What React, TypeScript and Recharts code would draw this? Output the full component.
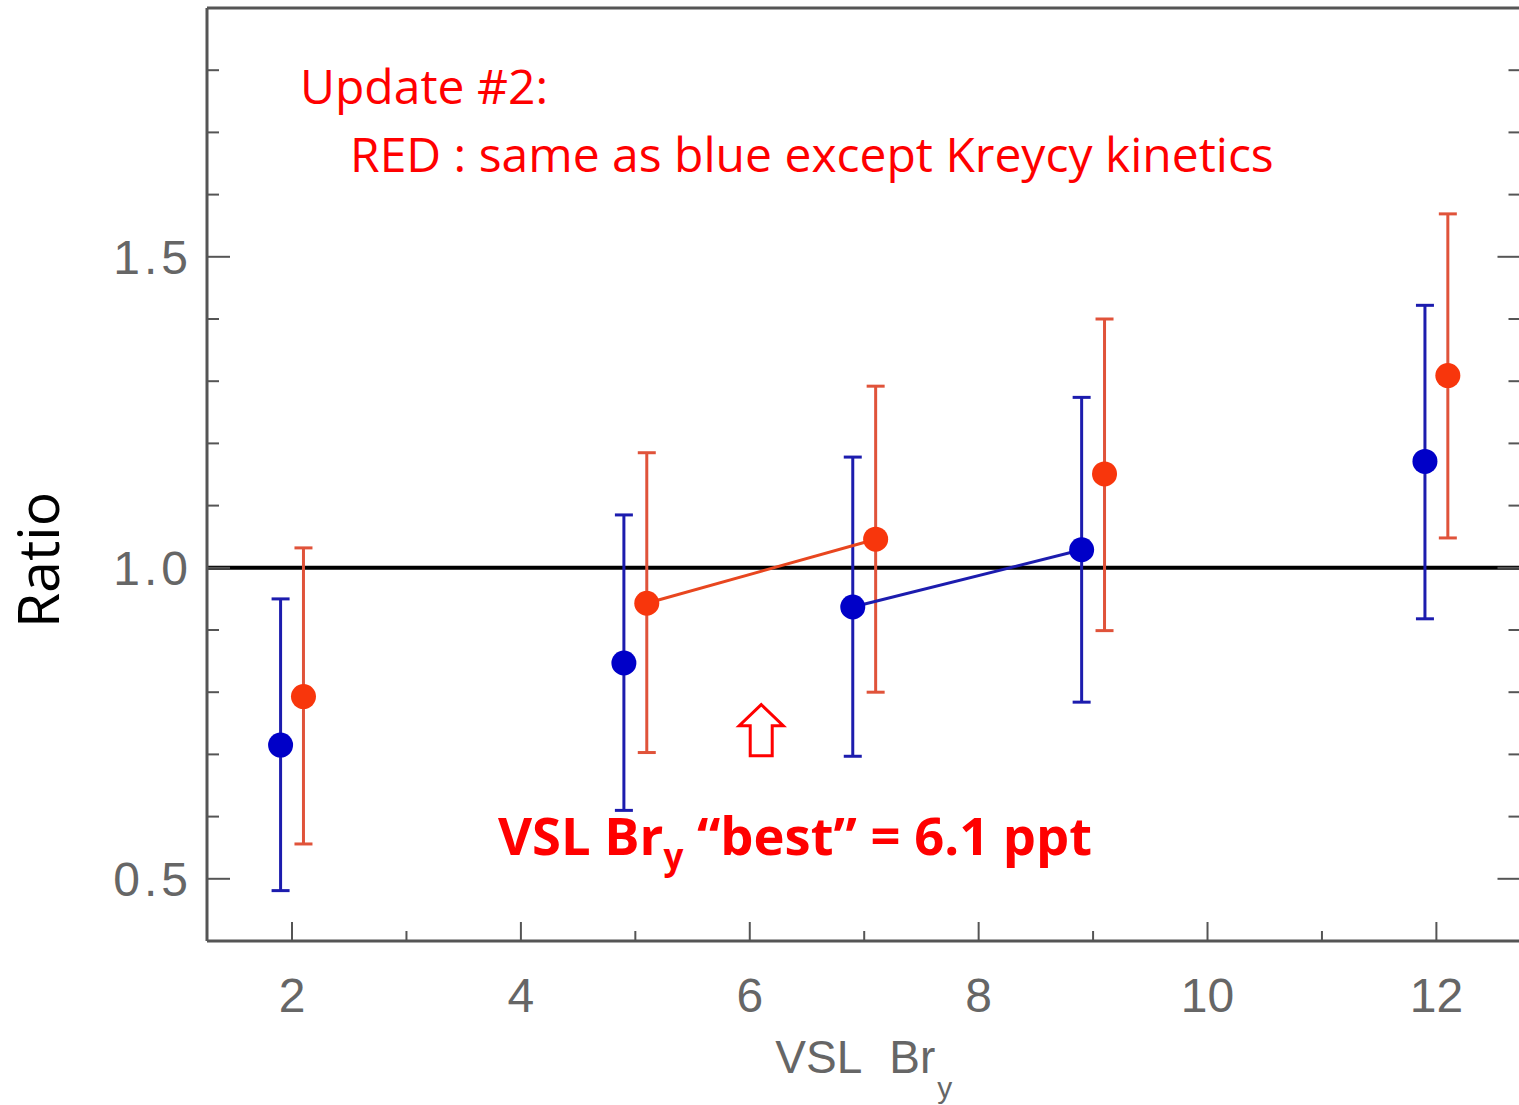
import React from 'react';
import {
  ComposedChart, Scatter, ErrorBar, XAxis, YAxis, ReferenceLine, ReferenceDot, Customized,
} from 'recharts';

// blue run: base case, plotted just left of each nominal Br_y value
const BLUE_X = [1.9, 4.9, 6.9, 8.9, 11.9];
const BLUE_Y = [0.715, 0.847, 0.937, 1.029, 1.171];
const BLUE_LOW = [0.481, 0.61, 0.697, 0.784, 0.918];
const BLUE_HIGH = [0.95, 1.085, 1.178, 1.274, 1.422];

// red run: same as blue except Kreycy kinetics, just right of each value
const RED_X = [2.1, 5.1, 7.1, 9.1, 12.1];
const RED_Y = [0.793, 0.943, 1.046, 1.151, 1.309];
const RED_LOW = [0.556, 0.703, 0.8, 0.899, 1.048];
const RED_HIGH = [1.032, 1.185, 1.292, 1.4, 1.569];

// indices of the points joined by a segment where each run crosses 1.0
const BLUE_JOINED = [2, 3];
const RED_JOINED = [1, 2];

const BEST_BRY = 6.1;
const ARROW_TIP = 0.78;

const X_DOMAIN = [1.257, 12.735];
const Y_DOMAIN = [0.4, 1.9];
const X_TICKS = [2, 3, 4, 5, 6, 7, 8, 9, 10, 11, 12];
const X_LABELS = [2, 4, 6, 8, 10, 12];
const Y_TICKS = [0.5, 0.6, 0.7, 0.8, 0.9, 1.0, 1.1, 1.2, 1.3, 1.4, 1.5, 1.6, 1.7, 1.8];
const Y_LABELS = [0.5, 1.0, 1.5];

const FRAME = '#555';
const TICK_FONT = '"Liberation Sans", Arial, sans-serif';
const TICK_INK = '#666';
const NOTE_FONT = '"Open Sans", "Noto Sans", sans-serif';
const NOTE_RED = '#ff0000';

const BLUE_DOT = '#0000c8';
const BLUE_BAR = '#1c1cae';
const RED_DOT = '#f8360c';
const RED_BAR = '#e0533a';

const toPoints = (xs: number[], ys: number[], lo: number[], hi: number[]) =>
  xs.map((x, i) => ({ x, y: ys[i], err: [ys[i] - lo[i], hi[i] - ys[i]] }));

const bluePoints = toPoints(BLUE_X, BLUE_Y, BLUE_LOW, BLUE_HIGH);
const redPoints = toPoints(RED_X, RED_Y, RED_LOW, RED_HIGH);
const blueLink = BLUE_JOINED.map((i) => ({ x: BLUE_X[i], y: BLUE_Y[i] }));
const redLink = RED_JOINED.map((i) => ({ x: RED_X[i], y: RED_Y[i] }));

const isLabelled = (list: number[], v: number) => list.some((l) => Math.abs(l - v) < 1e-6);

// inward ticks on all four sides, labels only on bottom and left
const xTick = (side: 'bottom' | 'top') => (props: any) => {
  const { x, y, payload } = props;
  const major = isLabelled(X_LABELS, payload.value);
  const len = major ? 19 : 10;
  const dir = side === 'bottom' ? -1 : 1;
  return (
    <g>
      <line x1={x} x2={x} y1={y} y2={y + dir * len} stroke={FRAME} strokeWidth={2} />
      {side === 'bottom' && major && (
        <text x={x} y={y + 71} textAnchor="middle" fontFamily={TICK_FONT} fontSize={48} fill={TICK_INK}>
          {payload.value}
        </text>
      )}
    </g>
  );
};

const yTick = (side: 'left' | 'right') => (props: any) => {
  const { x, y, payload } = props;
  const major = isLabelled(Y_LABELS, payload.value);
  const len = major ? 23 : 12;
  const dir = side === 'left' ? 1 : -1;
  return (
    <g>
      <line x1={x} x2={x + dir * len} y1={y} y2={y} stroke={FRAME} strokeWidth={2} />
      {side === 'left' && major && (
        <text x={x - 15} y={y + 17} textAnchor="end" fontFamily={TICK_FONT} fontSize={48}
          fill={TICK_INK} letterSpacing={4}>
          {payload.value.toFixed(1)}
        </text>
      )}
    </g>
  );
};

const xTitle = (props: any) => {
  const { viewBox } = props;
  const cx = viewBox.x + viewBox.width / 2;
  return (
    <text x={cx} y={1073} textAnchor="middle" fontFamily={TICK_FONT} fontSize={46} fill={TICK_INK}>
      <tspan>VSL</tspan>
      <tspan dx={27}>Br</tspan>
      <tspan dx={2} dy={25} fontSize={30}>y</tspan>
    </text>
  );
};

const yTitle = () => (
  <g transform="translate(59 560) rotate(-90)">
    <text x={0} y={0} textAnchor="middle" fontFamily={NOTE_FONT} fontSize={57} fill="#000">
      Ratio
    </text>
  </g>
);

// hollow up-arrow pointing at the best Br_y value
const upArrow = (props: any) => {
  const { cx, cy } = props;
  const d = `M${cx},${cy} L${cx + 22},${cy + 21} L${cx + 11},${cy + 21} L${cx + 11},${cy + 51}
    L${cx - 11},${cy + 51} L${cx - 11},${cy + 21} L${cx - 22},${cy + 21} Z`;
  return <path d={d} fill="#fff" stroke={NOTE_RED} strokeWidth={3} strokeLinejoin="miter" />;
};

const Notes = () => (
  <g fill={NOTE_RED} fontFamily={NOTE_FONT}>
    <text x={300} y={104} fontSize={48}>Update #2:</text>
    <text x={350} y={172} fontSize={48}>RED : same as blue except Kreycy kinetics</text>
    <text x={498} y={855} fontSize={52.5} fontWeight={700}>
      <tspan>VSL Br</tspan>
      <tspan dy={14} fontSize={35}>y</tspan>
      <tspan dy={-14}>{' \u201cbest\u201d = '}{BEST_BRY} ppt</tspan>
    </text>
  </g>
);

const dot = (fill: string) => (props: any) => <circle cx={props.cx} cy={props.cy} r={12.5} fill={fill} />;
const noDot = () => <g />;

export default function App() {
  return (
    <div style={{ position: 'absolute', left: 0, top: 0, width: 1519, height: 1105, overflow: 'hidden', background: '#fff' }}>
      <ComposedChart width={1545} height={1105} margin={{ top: 7, left: 206, right: 23.5, bottom: 163 }}>
        <XAxis dataKey="x" type="number" domain={X_DOMAIN} ticks={X_TICKS} interval={0} allowDataOverflow
          height={1} tickSize={0} tickMargin={0} tick={xTick('bottom')} tickLine={false}
          axisLine={{ stroke: FRAME, strokeWidth: 3 }} label={{ content: xTitle }} />
        <XAxis xAxisId="top" orientation="top" type="number" domain={X_DOMAIN} ticks={X_TICKS} interval={0}
          allowDataOverflow height={1} tickSize={0} tickMargin={0} tick={xTick('top')} tickLine={false}
          axisLine={{ stroke: FRAME, strokeWidth: 3 }} />
        <YAxis dataKey="y" type="number" domain={Y_DOMAIN} ticks={Y_TICKS} interval={0} allowDataOverflow
          width={1} tickSize={0} tickMargin={0} tick={yTick('left')} tickLine={false}
          axisLine={{ stroke: FRAME, strokeWidth: 3 }} label={{ content: yTitle }} />
        <YAxis yAxisId="right" orientation="right" type="number" domain={Y_DOMAIN} ticks={Y_TICKS} interval={0}
          allowDataOverflow width={1} tickSize={0} tickMargin={0} tick={yTick('right')} tickLine={false}
          axisLine={{ stroke: FRAME, strokeWidth: 3 }} />

        <ReferenceLine y={1} stroke="#000" strokeWidth={4} />

        <Scatter data={blueLink} dataKey="y" line={{ stroke: BLUE_BAR, strokeWidth: 3 }} shape={noDot}
          isAnimationActive={false} />
        <Scatter data={redLink} dataKey="y" line={{ stroke: '#e8461f', strokeWidth: 3 }} shape={noDot}
          isAnimationActive={false} />

        <Scatter data={bluePoints} dataKey="y" shape={dot(BLUE_DOT)} isAnimationActive={false}>
          <ErrorBar dataKey="err" direction="y" width={9} stroke={BLUE_BAR} strokeWidth={3} isAnimationActive={false} />
        </Scatter>
        <Scatter data={redPoints} dataKey="y" shape={dot(RED_DOT)} isAnimationActive={false}>
          <ErrorBar dataKey="err" direction="y" width={9} stroke={RED_BAR} strokeWidth={3} isAnimationActive={false} />
        </Scatter>

        <ReferenceDot x={BEST_BRY} y={ARROW_TIP} shape={upArrow} />
        <Customized component={Notes} />
      </ComposedChart>
    </div>
  );
}
